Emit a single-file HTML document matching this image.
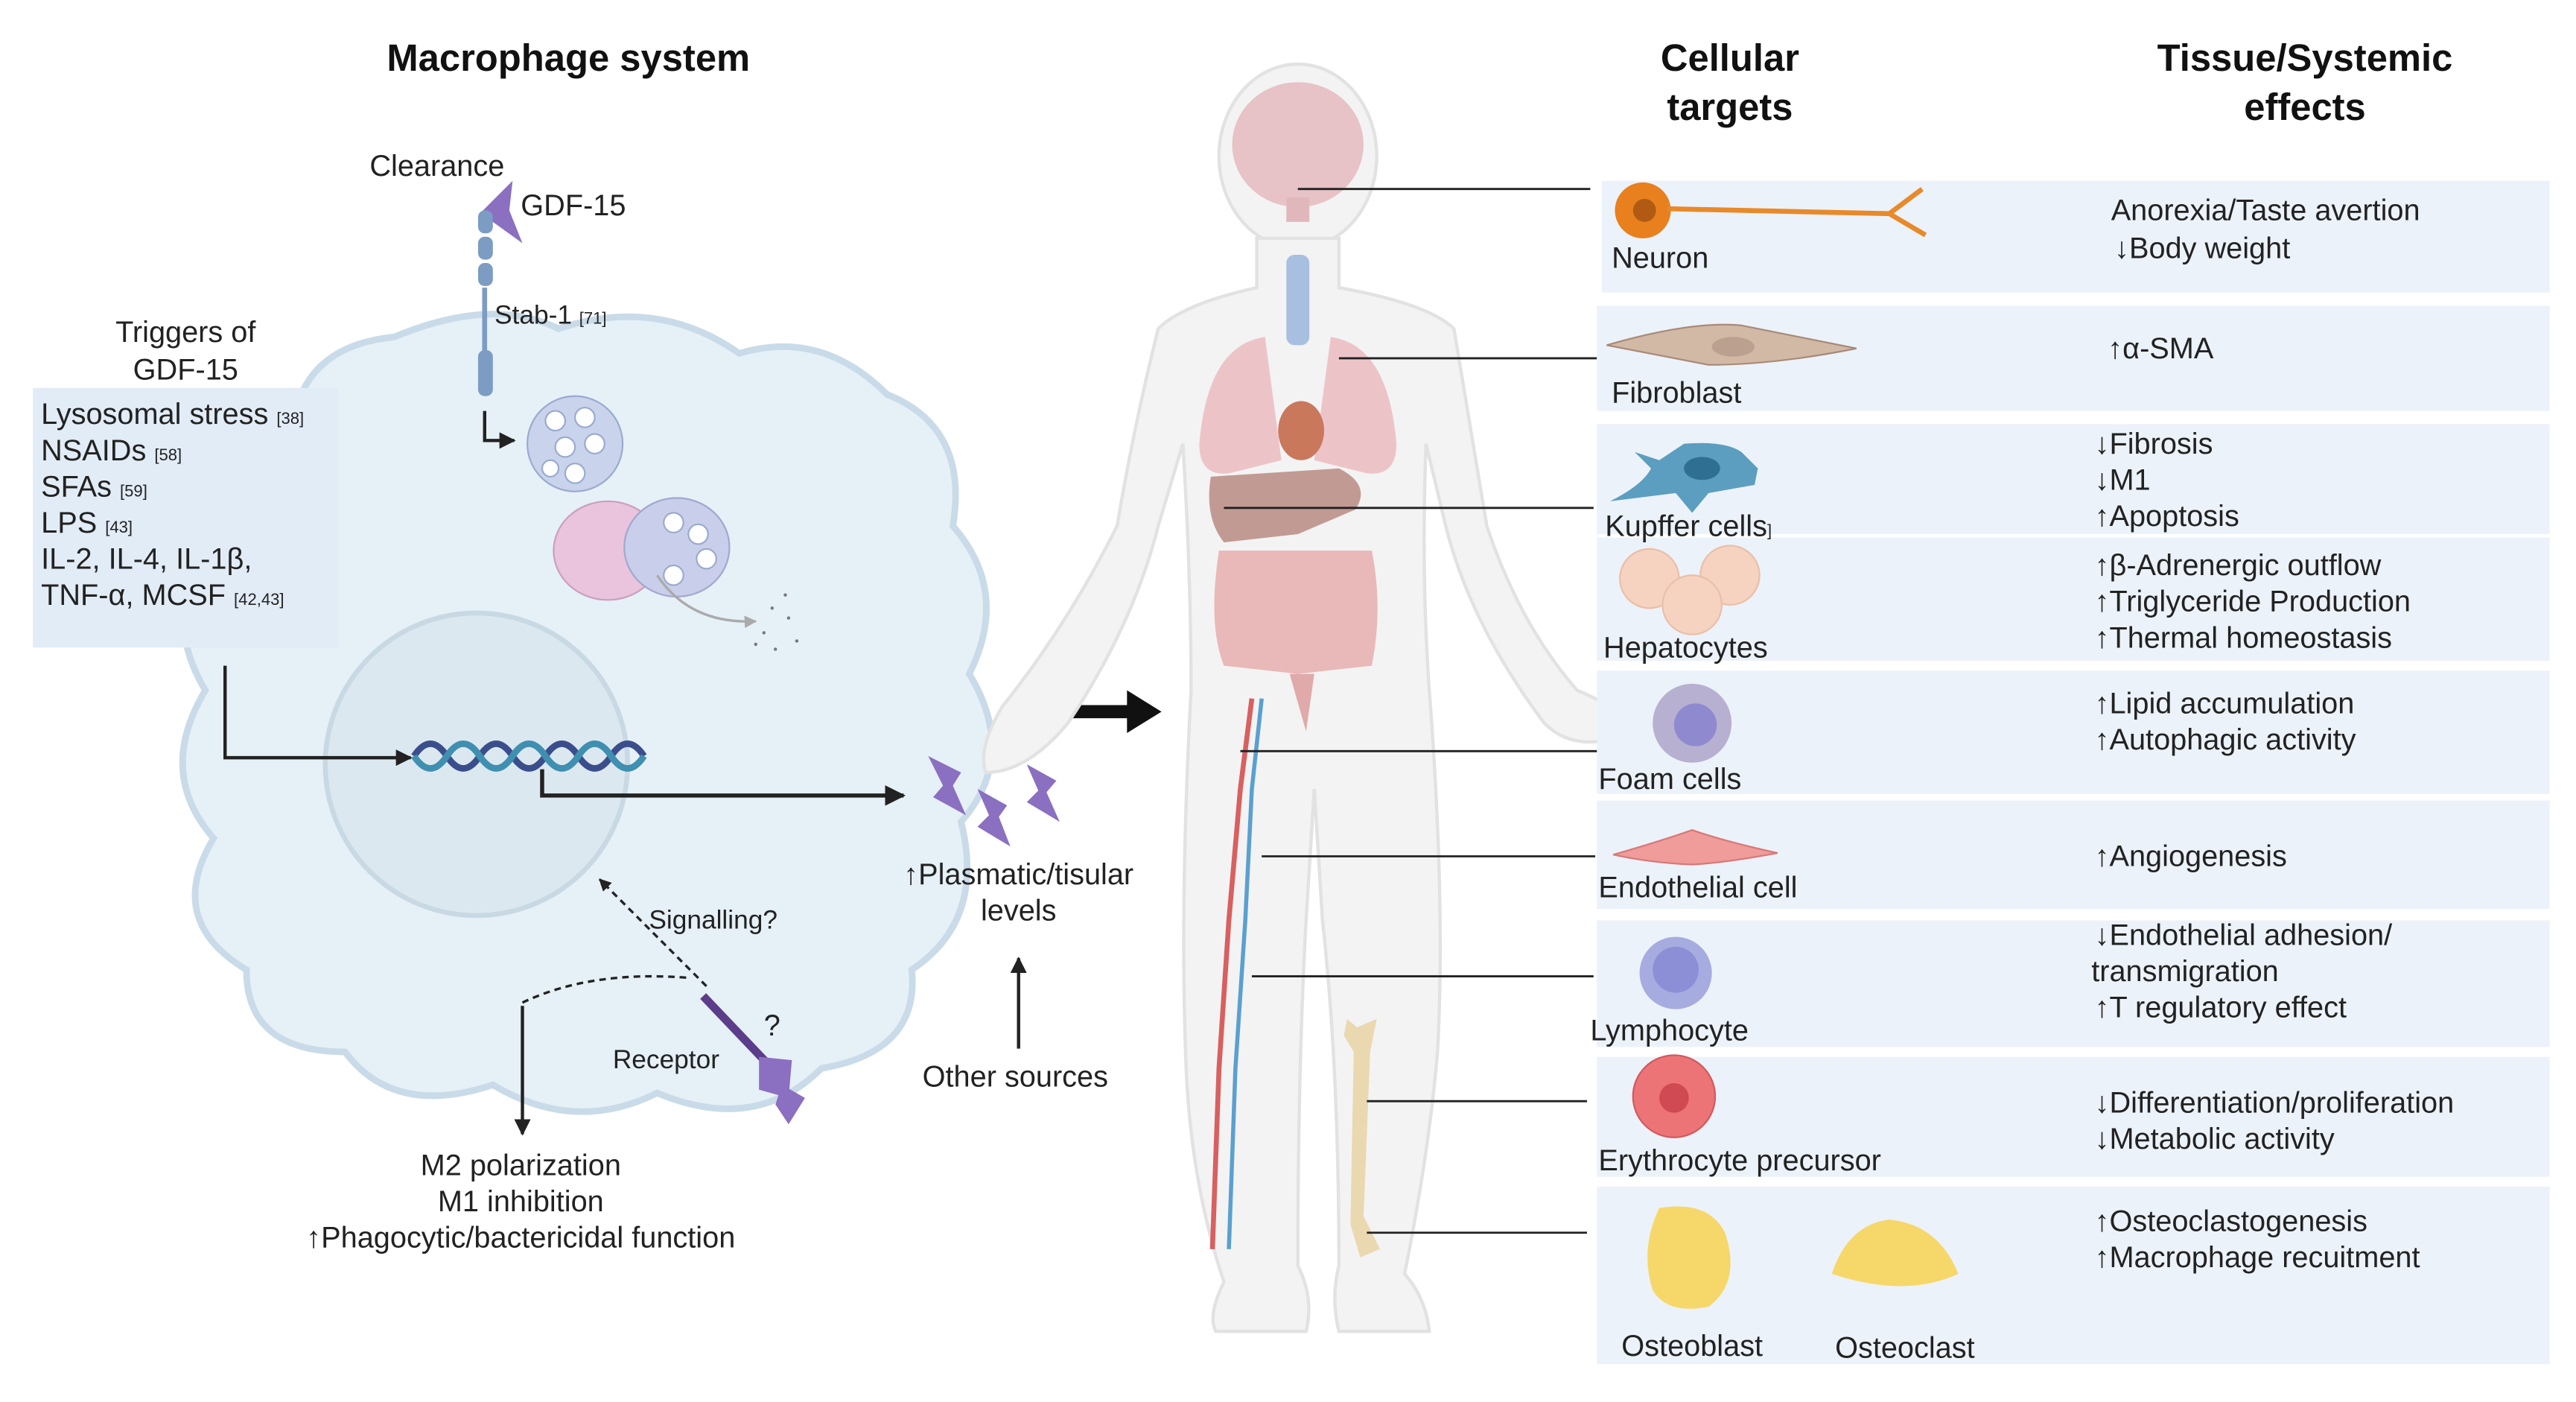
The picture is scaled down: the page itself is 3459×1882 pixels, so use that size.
<!DOCTYPE html>
<html><head><meta charset="utf-8"><style>
html,body{margin:0;padding:0;background:#fff;}
svg{display:block}
text{font-family:"Liberation Sans",sans-serif;fill:#222;}
.h{font-weight:bold;font-size:23px;fill:#111}
.t{font-size:18px}
.s{font-size:10px}
</style></head><body>
<svg width="3459" height="1882" viewBox="0 0 1568 853" preserveAspectRatio="none" xmlns="http://www.w3.org/2000/svg">
<defs>
<marker id="a" viewBox="0 0 10 10" refX="9" refY="5" markerWidth="5" markerHeight="5" orient="auto"><path d="M0,0L10,5L0,10z" fill="#222"/></marker>
<marker id="g" viewBox="0 0 10 10" refX="9" refY="5" markerWidth="5" markerHeight="5" orient="auto"><path d="M0,0L10,5L0,10z" fill="#aaa"/></marker>
</defs>
<!-- headings -->
<text class="h" x="346" y="43" text-anchor="middle">Macrophage system</text>
<text class="h" x="1053" y="43" text-anchor="middle">Cellular</text>
<text class="h" x="1053" y="73" text-anchor="middle">targets</text>
<text class="h" x="1403" y="43" text-anchor="middle">Tissue/Systemic</text>
<text class="h" x="1403" y="73" text-anchor="middle">effects</text>

<!-- macrophage cell -->
<path d="M240,205 Q300,180 340,200 Q400,180 450,215 Q500,200 540,240 Q590,260 580,320 Q615,360 590,410 Q620,460 585,500 Q600,560 555,590 Q560,640 500,650 Q460,690 400,665 Q350,690 300,660 Q240,680 210,640 Q150,640 150,590 Q100,560 130,510 Q95,470 125,420 Q95,370 135,330 Q120,270 180,250 Q190,210 240,205Z" fill="#e6f0f7" stroke="#c9dbe8" stroke-width="4"/>
<circle cx="290" cy="465" r="92" fill="#dce8f0" stroke="#c8d9e4" stroke-width="3"/>
<rect x="20" y="236" width="186" height="158" fill="#e2ecf6"/>
<text class="t" x="113" y="208" text-anchor="middle">Triggers of</text>
<text class="t" x="113" y="231" text-anchor="middle">GDF-15</text>
<text class="t" x="25" y="258">Lysosomal stress <tspan class="s">[38]</tspan></text>
<text class="t" x="25" y="280">NSAIDs <tspan class="s">[58]</tspan></text>
<text class="t" x="25" y="302">SFAs <tspan class="s">[59]</tspan></text>
<text class="t" x="25" y="324">LPS <tspan class="s">[43]</tspan></text>
<text class="t" x="25" y="346">IL-2, IL-4, IL-1β,</text>
<text class="t" x="25" y="368">TNF-α, MCSF <tspan class="s">[42,43]</tspan></text>

<!-- clearance -->
<text class="t" x="225" y="107">Clearance</text>
<text class="t" x="317" y="131">GDF-15</text>
<path d="M292,130 L312,110 L310,128 L318,148 L300,135Z" fill="#8b6fc0"/>
<rect x="291" y="128" width="9" height="14" rx="4" fill="#7c9cc4"/>
<rect x="291" y="144" width="9" height="14" rx="4" fill="#7c9cc4"/>
<rect x="291" y="160" width="9" height="14" rx="4" fill="#7c9cc4"/>
<line x1="295" y1="175" x2="295" y2="215" stroke="#7c9cc4" stroke-width="3"/>
<rect x="291" y="213" width="9" height="28" rx="4" fill="#7c9cc4"/>
<text class="t" x="301" y="197" style="font-size:16px">Stab-1 <tspan class="s">[71]</tspan></text>
<polyline points="295,250 295,268 313,268" fill="none" stroke="#222" stroke-width="2" marker-end="url(#a)"/>
<circle cx="350" cy="270" r="29" fill="#c9d4ec" stroke="#9aaad0"/>
<g fill="#fff" stroke="#9aaad0"><circle cx="338" cy="256" r="6"/><circle cx="356" cy="254" r="6"/><circle cx="344" cy="272" r="6"/><circle cx="362" cy="270" r="6"/><circle cx="350" cy="288" r="6"/><circle cx="335" cy="285" r="5"/></g>
<ellipse cx="370" cy="335" rx="33" ry="30" fill="#e9c4dc" stroke="#c9a0c0"/>
<ellipse cx="412" cy="333" rx="32" ry="30" fill="#c9cfea" stroke="#a0a8d0"/>
<g fill="#fff" stroke="#9aaad0"><circle cx="410" cy="318" r="6"/><circle cx="425" cy="325" r="6"/><circle cx="430" cy="340" r="6"/><circle cx="410" cy="350" r="6"/></g>
<path d="M400,350 Q420,380 460,378" fill="none" stroke="#aaa" stroke-width="1.5" marker-end="url(#g)"/>
<g fill="#777"><circle cx="470" cy="370" r="1"/><circle cx="480" cy="376" r="1"/><circle cx="465" cy="385" r="1"/><circle cx="485" cy="390" r="1"/><circle cx="472" cy="395" r="1"/><circle cx="460" cy="392" r="1"/><circle cx="478" cy="362" r="1"/></g>

<!-- DNA -->
<path d="M252,460 Q262,445 272,460 T292,460 T312,460 T332,460 T352,460 T372,460 T392,460" fill="none" stroke="#3b4e8c" stroke-width="4"/>
<path d="M252,460 Q262,475 272,460 T292,460 T312,460 T332,460 T352,460 T372,460 T392,460" fill="none" stroke="#3f8fb0" stroke-width="4"/>
<polyline points="137,405 137,461 250,461" fill="none" stroke="#222" stroke-width="2" marker-end="url(#a)"/>
<polyline points="330,468 330,484 550,484" fill="none" stroke="#222" stroke-width="2.5" marker-end="url(#a)"/>

<!-- receptor -->
<text class="t" x="395" y="565" style="font-size:16px">Signalling?</text>
<line x1="430" y1="600" x2="365" y2="535" stroke="#222" stroke-width="1.5" stroke-dasharray="4,3" marker-end="url(#a)"/>
<path d="M318,610 Q360,590 420,595" fill="none" stroke="#222" stroke-width="1.5" stroke-dasharray="4,3"/>
<line x1="318" y1="612" x2="318" y2="690" stroke="#222" stroke-width="2" marker-end="url(#a)"/>
<line x1="428" y1="606" x2="468" y2="648" stroke="#5b3d8a" stroke-width="5"/>
<path d="M462,643 L482,645 L480,668 L462,663Z" fill="#8b6fc0"/>
<path d="M476,660 L490,668 L480,684 L472,672Z" fill="#8b6fc0"/>
<text class="t" x="465" y="630">?</text>
<text class="t" x="373" y="650" style="font-size:16px">Receptor</text>
<text class="t" x="317" y="715" text-anchor="middle">M2 polarization</text>
<text class="t" x="317" y="737" text-anchor="middle">M1 inhibition</text>
<text class="t" x="317" y="759" text-anchor="middle">↑Phagocytic/bactericidal function</text>

<!-- GDF15 bolts -->
<g fill="#8b6fc0"><path d="M565,460 L585,470 L580,478 L588,496 L568,485 L574,478Z"/><path d="M595,480 L613,490 L608,497 L615,515 L595,503 L602,496Z"/><path d="M625,465 L643,475 L637,482 L645,500 L625,488 L632,481Z"/></g>
<text class="t" x="620" y="538" text-anchor="middle">↑Plasmatic/tisular</text>
<text class="t" x="620" y="560" text-anchor="middle">levels</text>
<line x1="620" y1="638" x2="620" y2="583" stroke="#222" stroke-width="2" marker-end="url(#a)"/>
<text class="t" x="618" y="661" text-anchor="middle">Other sources</text>
<line x1="636" y1="433" x2="690" y2="433" stroke="#111" stroke-width="8"/>
<path d="M686,420 L707,433 L686,446Z" fill="#111"/>

<!-- body -->
<ellipse cx="790" cy="95" rx="48" ry="56" fill="#f3f3f3" stroke="#e2e2e2" stroke-width="2"/>
<path d="M765,145 L765,175 Q720,185 705,200 Q690,260 680,320 Q650,380 610,430 Q595,455 600,470 Q625,470 650,440 Q690,380 705,320 L720,270 Q725,350 725,420 Q718,550 722,650 Q725,720 745,780 Q735,800 740,810 L795,810 Q800,790 790,770 Q790,650 795,560 L800,480 L805,560 Q815,650 815,770 Q810,790 815,810 L870,810 Q868,790 855,775 Q870,700 875,640 Q880,550 870,420 Q865,350 868,270 L880,320 Q895,380 940,440 Q960,460 995,445 Q985,430 960,420 Q925,380 905,320 Q895,260 885,200 Q870,185 815,175 L815,145 Z" fill="#f3f3f3" stroke="#e2e2e2" stroke-width="2"/>
<ellipse cx="790" cy="88" rx="40" ry="38" fill="#e7c2c6"/>
<rect x="783" y="120" width="14" height="15" fill="#e0b8bc"/>
<rect x="783" y="155" width="14" height="55" rx="5" fill="#a8c0df"/>
<path d="M770,205 Q735,210 730,270 Q730,290 748,288 L780,280Z" fill="#ecc4c8"/>
<path d="M810,205 Q845,210 850,270 Q850,290 832,288 L800,280Z" fill="#ecc4c8"/>
<ellipse cx="792" cy="262" rx="14" ry="18" fill="#c9785c"/>
<path d="M737,290 L815,285 Q835,295 825,310 L790,325 L745,330 Q733,315 737,290Z" fill="#c29a94"/>
<path d="M742,335 Q735,380 745,405 L790,410 L835,405 Q842,370 835,335Z" fill="#e9b8b8"/>
<path d="M785,410 L795,445 L800,410Z" fill="#e0aaaa"/>
<path d="M762,425 L755,480 L748,560 L742,650 L738,760" fill="none" stroke="#d86060" stroke-width="3"/>
<path d="M768,425 L762,480 L758,560 L752,650 L748,760" fill="none" stroke="#5aa0d0" stroke-width="2.5"/>
<path d="M820,620 L826,625 L838,620 L834,640 L830,740 L840,760 L828,765 L822,745 L824,640 L818,630Z" fill="#ead8b0"/>
<g stroke="#222" stroke-width="1.3">
<line x1="790" y1="115" x2="968" y2="115"/><line x1="815" y1="218" x2="972" y2="218"/><line x1="745" y1="309" x2="970" y2="309"/><line x1="755" y1="457" x2="973" y2="457"/><line x1="768" y1="521" x2="971" y2="521"/><line x1="762" y1="594" x2="970" y2="594"/><line x1="832" y1="670" x2="966" y2="670"/><line x1="832" y1="750" x2="966" y2="750"/>
</g>

<!-- right panels -->
<g fill="#ecf2f9">
<rect x="975" y="110" width="577" height="68"/><rect x="972" y="186" width="580" height="64"/><rect x="972" y="258" width="580" height="67"/><rect x="972" y="327" width="580" height="75"/><rect x="972" y="408" width="580" height="75"/><rect x="972" y="487" width="580" height="66"/><rect x="972" y="560" width="580" height="77"/><rect x="972" y="643" width="580" height="73"/><rect x="972" y="722" width="580" height="108"/>
</g>
<!-- cell icons -->
<circle cx="1000" cy="128" r="17" fill="#e8801e"/><circle cx="1001" cy="128" r="7" fill="#b05a14"/>
<path d="M1015,127 L1150,130 L1170,115 M1150,130 L1172,143" fill="none" stroke="#e8892a" stroke-width="3"/>
<path d="M978,210 Q1030,195 1060,198 L1130,212 Q1080,222 1040,222 Z" fill="#d2b9a6" stroke="#a88a78"/>
<ellipse cx="1055" cy="211" rx="13" ry="6" fill="#bba08f"/>
<path d="M980,305 Q1000,295 1005,285 L995,275 L1010,280 L1025,270 Q1050,268 1060,275 L1070,285 L1068,295 L1040,300 L1030,312 L1020,300 Z" fill="#5b9ec0"/>
<ellipse cx="1036" cy="285" rx="11" ry="7" fill="#2f6f92"/>
<g fill="#f5d3c0" stroke="#e9bfa8"><circle cx="1004" cy="352" r="18"/><circle cx="1053" cy="350" r="18"/><circle cx="1030" cy="368" r="18"/></g>
<circle cx="1030" cy="440" r="24" fill="#b7b0d0"/><circle cx="1032" cy="441" r="13" fill="#8f8ad0"/>
<path d="M982,520 Q1010,512 1030,505 Q1050,512 1082,519 Q1050,525 1030,526 Q1005,525 982,520Z" fill="#ef9c9a" stroke="#d87878"/>
<circle cx="1020" cy="592" r="22" fill="#a6acdf"/><circle cx="1020" cy="590" r="14" fill="#8c8fd6"/>
<circle cx="1019" cy="667" r="25" fill="#ec7476" stroke="#d05a5e"/><circle cx="1019" cy="668" r="9" fill="#cf4a52"/>
<path d="M1010,735 Q1040,730 1050,750 Q1060,780 1040,795 Q1015,800 1006,785 Q998,760 1010,735Z" fill="#f6d76a"/>
<path d="M1115,775 Q1125,745 1150,742 Q1180,745 1192,775 Q1160,790 1115,775Z" fill="#f6d76a"/>
<g class="t">
<text class="t" x="981" y="163">Neuron</text>
<text class="t" x="981" y="245">Fibroblast</text>
<text class="t" x="977" y="326">Kupffer cells<tspan class="s">]</tspan></text>
<text class="t" x="976" y="400">Hepatocytes</text>
<text class="t" x="973" y="480">Foam cells</text>
<text class="t" x="973" y="546">Endothelial cell</text>
<text class="t" x="968" y="633">Lymphocyte</text>
<text class="t" x="973" y="712">Erythrocyte precursor</text>
<text class="t" x="987" y="825">Osteoblast</text>
<text class="t" x="1117" y="826">Osteoclast</text>
</g>
<text class="t" x="1285" y="134">Anorexia/Taste avertion</text>
<text class="t" x="1287" y="157">↓Body weight</text>
<text class="t" x="1283" y="218">↑α-SMA</text>
<text class="t" x="1275" y="276">↓Fibrosis</text>
<text class="t" x="1275" y="298">↓M1</text>
<text class="t" x="1275" y="320">↑Apoptosis</text>
<text class="t" x="1275" y="350">↑β-Adrenergic outflow</text>
<text class="t" x="1275" y="372">↑Triglyceride Production</text>
<text class="t" x="1275" y="394">↑Thermal homeostasis</text>
<text class="t" x="1275" y="434">↑Lipid accumulation</text>
<text class="t" x="1275" y="456">↑Autophagic activity</text>
<text class="t" x="1275" y="527">↑Angiogenesis</text>
<text class="t" x="1275" y="575">↓Endothelial adhesion/</text>
<text class="t" x="1273" y="597">transmigration</text>
<text class="t" x="1275" y="619">↑T regulatory effect</text>
<text class="t" x="1275" y="677">↓Differentiation/proliferation</text>
<text class="t" x="1275" y="699">↓Metabolic activity</text>
<text class="t" x="1275" y="749">↑Osteoclastogenesis</text>
<text class="t" x="1275" y="771">↑Macrophage recuitment</text>
</svg>
</body></html>
